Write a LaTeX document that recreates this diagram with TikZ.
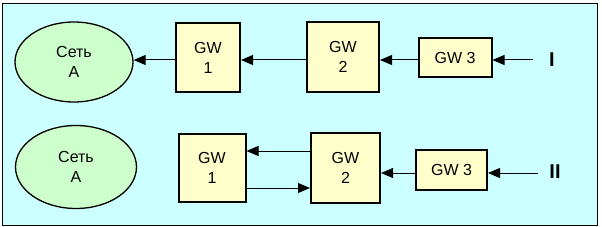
\documentclass[tikz,border=0pt]{standalone}
\usepackage{fontspec}
\setmainfont{Liberation Sans}
\usepackage{xcolor}
\usetikzlibrary{arrows.meta,positioning,calc,shapes.geometric}
\definecolor{bgcyan}{HTML}{CCFFFF}
\definecolor{netgreen}{HTML}{CCFFCC}
\definecolor{gwyellow}{HTML}{FFFFCC}

\begin{document}
\begin{tikzpicture}[
    x=1pt, y=-1pt,
    net/.style={draw, ellipse, line width=1.3pt, fill=netgreen, inner sep=0pt, align=center, font=\fontsize{16}{20}\selectfont},
    gw/.style={draw, line width=2pt, fill=gwyellow, inner sep=0pt, align=center, font=\fontsize{16}{20}\selectfont},
    lab/.style={inner sep=0pt, font=\bfseries\fontsize{20}{24}\selectfont},
    arr/.style={-{Triangle[length=12pt, width=10pt]}, line width=1pt},
]
    \useasboundingbox (0,0) rectangle (602,227);
    % Frame
    \draw[fill=bgcyan, line width=1pt] (2,4) rectangle (597,225);

    % Row I
    \node[net, minimum width=118pt, minimum height=80pt] (netA1) at (74,62) {Сеть\\A};
    \node[gw, minimum width=64pt, minimum height=69pt] (gwA) at (208,57.5) {GW\\1};
    \node[gw, minimum width=72pt, minimum height=70pt] (gwB) at (343,57) {GW\\2};
    \node[gw, minimum width=73pt, minimum height=39pt] (gwC) at (455,57.5) {GW 3};
    \node[lab] (labI) at (552,60) {I};
    \coordinate (srcI) at (533,60);

    % Row II
    \node[net, minimum width=121pt, minimum height=83pt] (netA2) at (76,167) {Сеть\\A};
    \node[gw, minimum width=67pt, minimum height=67pt] (gwD) at (212,168) {GW\\1};
    \node[gw, minimum width=69pt, minimum height=69pt] (gwE) at (345.5,168) {GW\\2};
    \node[gw, minimum width=71pt, minimum height=40pt] (gwF) at (451.5,170) {GW 3};
    \node[lab] (labII) at (555,172) {II};
    \coordinate (srcII) at (538,173);

    % Arrows
    \draw[arr] (srcI) -- (gwC.east |- srcI);
    \draw[arr] (gwC.west |- srcI) -- (gwB.east |- srcI);
    \draw[arr] (gwB.west |- srcI) -- (gwA.east |- srcI);
    \draw[arr] (gwA.west |- srcI) -- (netA1.east |- srcI);

    \draw[arr] (srcII) -- (gwF.east |- srcII);
    \draw[arr] (gwF.west |- srcII) -- (gwE.east |- srcII);
    \draw[arr] ([yshift=17pt]gwE.west) -- ([yshift=17pt]gwD.east);
    \draw[arr] ([yshift=-20pt]gwD.east) -- ([yshift=-20pt]gwE.west);
\end{tikzpicture}
\end{document}
